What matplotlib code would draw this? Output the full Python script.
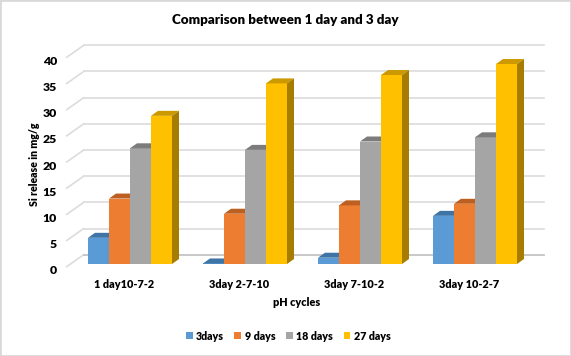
import numpy as np
import matplotlib
matplotlib.use("Agg")
import matplotlib.pyplot as plt
from matplotlib.patches import Polygon, Rectangle
from matplotlib.transforms import Affine2D

categories = ['1 day10-7-2', '3day 2-7-10', '3day 7-10-2', '3day 10-2-7']
days3 = [5.0, 0.1, 1.2, 9.2]
days9 = [12.5, 9.6, 11.2, 11.5]
days18 = [22.1, 21.8, 23.4, 24.2]
days27 = [28.3, 34.5, 36.1, 38.2]
series_names = ['3days', '9 days', '18 days', '27 days']
y_ticks = [0, 5, 10, 15, 20, 25, 30, 35, 40]

front = ['#5b9bd5', '#ed7d31', '#a5a5a5', '#ffc000']
top = ['#3f74a6', '#bd5f20', '#7c7c7c', '#cc9a00']
side = ['#3a6a98', '#a85519', '#6f6f6f', '#a67d00']
grid = '#dcdcdc'

plt.rcParams['font.family'] = ['Lato', 'DejaVu Sans']
plt.rcParams['font.weight'] = 'heavy'

W, H = 571, 356
fig = plt.figure(figsize=(W / 100, H / 100), dpi=100)
fig.add_artist(Rectangle((0, 0), 1, 1, transform=fig.transFigure, fill=False,
                         edgecolor='#d9d9d9', linewidth=2))

# axes = the front plane of the fake 3d box
ax = fig.add_axes([66.7 / W, 1 - 266.7 / H, 460 / W, 209.4 / H])
ax.set_xlim(-0.5, 3.5)
ax.set_ylim(0, 40)
ax.patch.set_alpha(0)
for s in ax.spines.values():
    s.set_visible(False)

px_x = 4 / 460
px_y = 40 / 209.4

# gridlines: diagonal on the side wall, then along the back wall
back = ax.transData + Affine2D().translate(17, 12)
for v in y_ticks:
    ax.plot([-0.5, -0.5 + 17 * px_x], [v, v + 12 * px_y], color=grid, lw=1.2, clip_on=False, zorder=1)
    ax.plot([-0.5, 3.5], [v, v], color='#bfbfbf' if v == 0 else grid, lw=1.2,
            transform=back, clip_on=False, zorder=1)

bar_w = 21 * px_x
depth_x = 7 * px_x
depth_y = 5 * px_y
shift = ax.transData + Affine2D().translate(5.8, 2.7)

x = np.arange(len(categories))
all_series = [days3, days9, days18, days27]
handles = []
for i, vals in enumerate(all_series):
    lefts = x + (i - 2) * bar_w
    bars = ax.bar(lefts, vals, bar_w, align='edge', color=front[i], label=series_names[i],
                  transform=shift, clip_on=False, zorder=3 + i, linewidth=0)
    handles.append(bars)
    for xl, v in zip(lefts, vals):
        xr = xl + bar_w
        ax.add_patch(Polygon([(xl, v), (xr, v), (xr + depth_x, v + depth_y), (xl + depth_x, v + depth_y)],
                             closed=True, facecolor=top[i], linewidth=0, transform=shift,
                             clip_on=False, zorder=3 + i))
        ax.add_patch(Polygon([(xr, 0), (xr + depth_x, depth_y), (xr + depth_x, v + depth_y), (xr, v)],
                             closed=True, facecolor=side[i], linewidth=0, transform=shift,
                             clip_on=False, zorder=3 + i))

ax.set_xticks(x, labels=categories)
ax.set_yticks(y_ticks)
ax.tick_params(axis='both', length=0, labelsize=7.8)
ax.tick_params(axis='x', pad=8.5)
ax.tick_params(axis='y', pad=7)
for lab in ax.get_yticklabels():
    lab.set_fontsize(8.8)
    lab.set_transform(lab.get_transform() + Affine2D().translate(0, -3))

fig.text(285 / W, 1 - 20 / H, 'Comparison between 1 day and 3 day', ha='center', va='center',
         fontsize=9.6)
fig.text(297 / W, 1 - 302 / H, 'pH cycles', ha='center', va='center', fontsize=7.8)
fig.text(34 / W, 1 - 164 / H, 'Si release in mg/g', ha='center', va='center', rotation=90, fontsize=7.6)

fig.legend(handles=handles, labels=series_names, loc='center', bbox_to_anchor=(288 / W, 1 - 336 / H),
           ncol=4, frameon=False, fontsize=7.7, handlelength=0.65, handleheight=0.65,
           handletextpad=0.3, columnspacing=1.0)

fig.savefig('out.png', dpi=100)
